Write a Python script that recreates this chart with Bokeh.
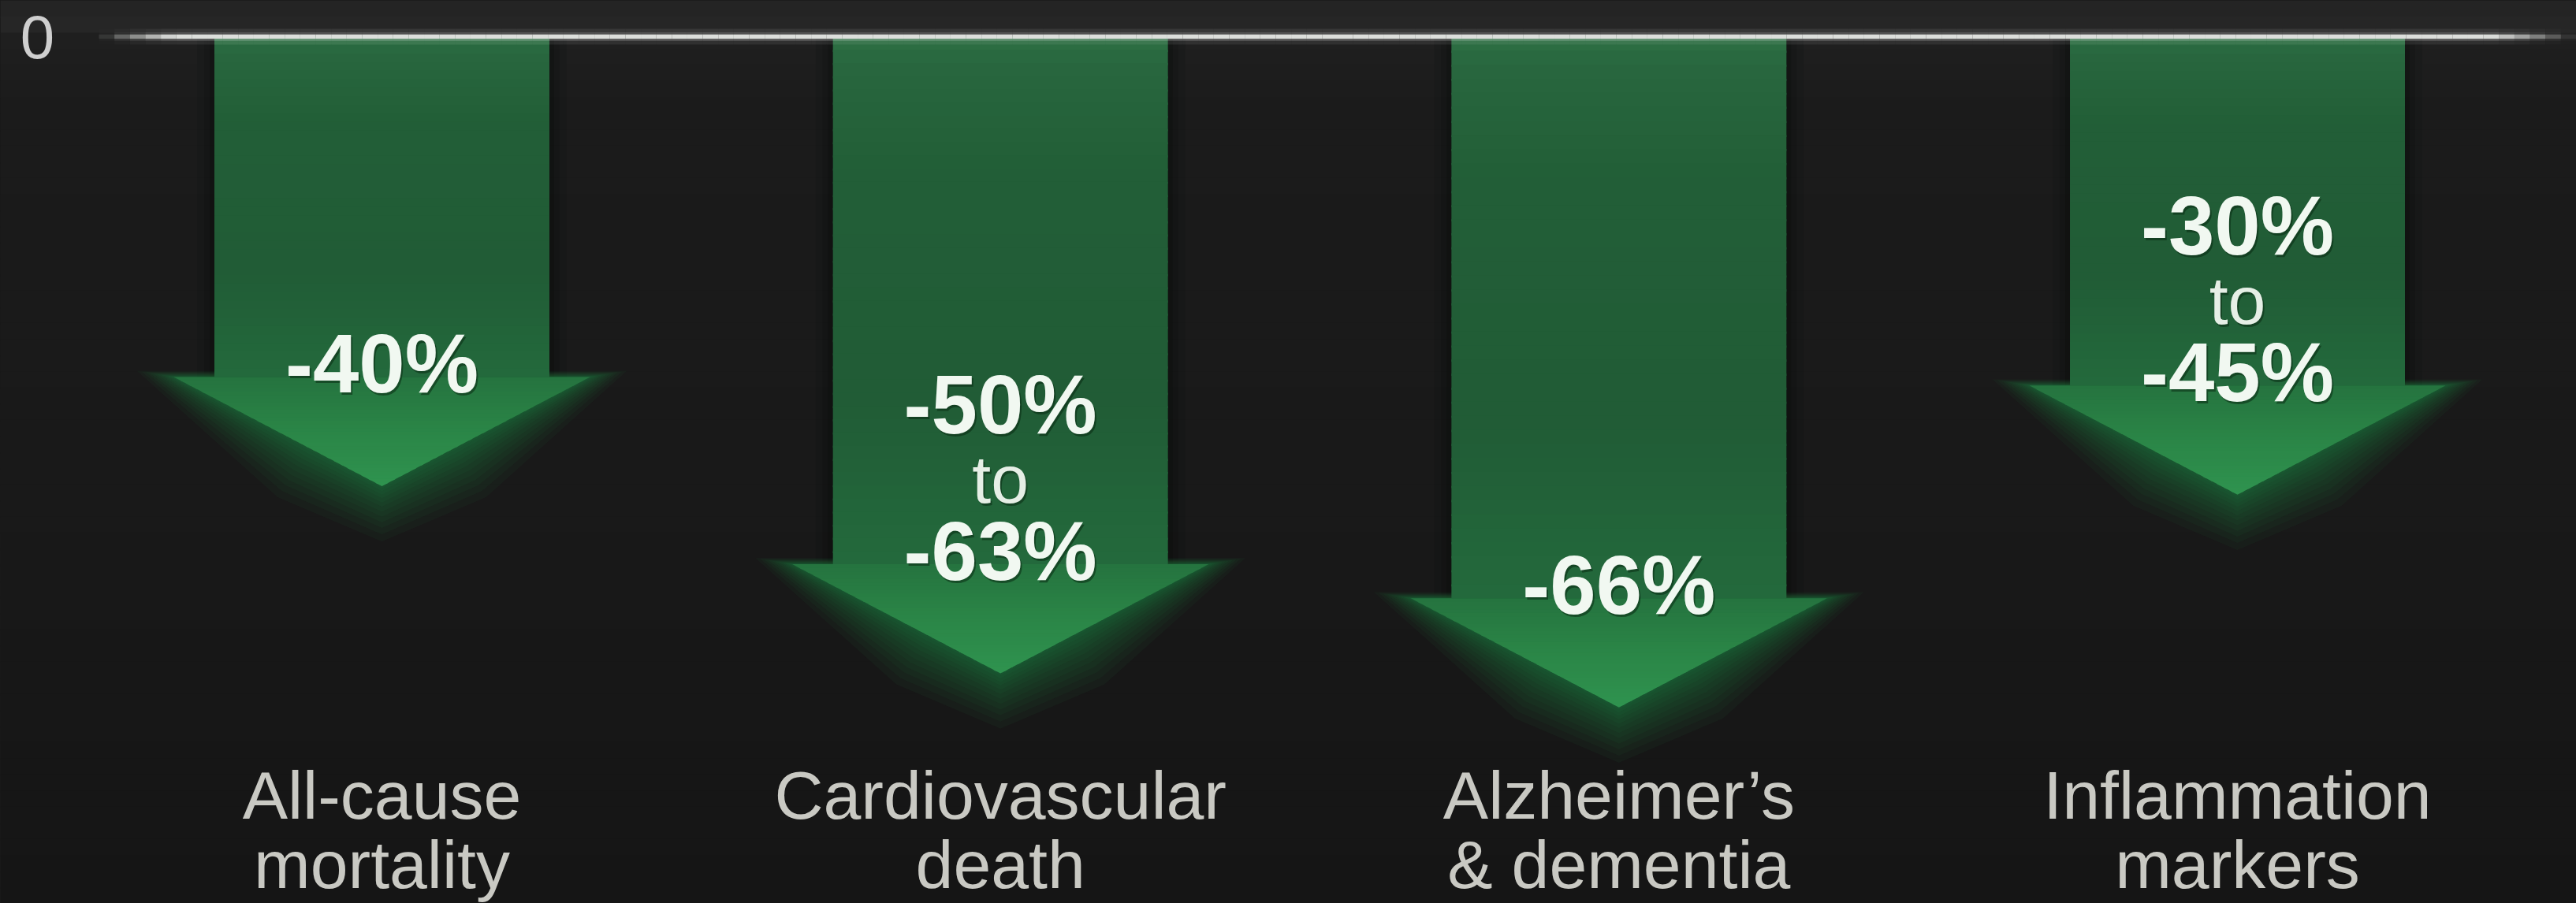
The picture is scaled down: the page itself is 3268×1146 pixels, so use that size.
import numpy as np
from bokeh.plotting import figure
from bokeh.models import Range1d, ColumnDataSource
from bokeh.core.properties import value
from bokeh.embed import file_html
from bokeh.resources import INLINE

# ---------------- data ----------------
category_line1 = ["All-cause", "Cardiovascular", "Alzheimer\u2019s", "Inflammation"]
category_line2 = ["mortality", "death", "& dementia", "markers"]
arrow_depth = [-40, -62, -66, -41]          # % reached by each arrow's shaft
label_from = ["", "-50%", "", "-30%"]       # upper value of a range (if any)
label_to = ["-40%", "-63%", "-66%", "-45%"]  # main / lower value
y_tick_values = [0]
y_tick_labels = ["0"]

# ---------------- layout ----------------
W, H = 3268, 1146
PX_X = 784.67     # px per category step
PX_Y = 10.8       # px per percent
x0_px = 484       # px of first category
zero_px = 46      # px of zero line from top
x_start, x_end = -x0_px / PX_X, (W - x0_px) / PX_X
y_end, y_start = zero_px / PX_Y, -(H - zero_px) / PX_Y

FONT = value("Liberation Sans")
SW = 212.5 / PX_X   # shaft half width
HW = 264.0 / PX_X   # head half width
HH = 138.5 / PX_Y   # head height


def hex2rgb(h):
    return np.array([int(h[i:i + 2], 16) for i in (1, 3, 5)], float)


def ramp(stops, t):
    pos = [s[0] for s in stops]
    cols = np.array([hex2rgb(s[1]) for s in stops])
    r = [int(round(np.interp(t, pos, cols[:, c]))) for c in range(3)]
    return "#%02x%02x%02x" % tuple(r)


p = figure(width=W, height=H, x_range=Range1d(x_start, x_end), y_range=Range1d(y_start, y_end),
           output_backend="svg", toolbar_location=None, min_border=0,
           x_axis_location=None, y_axis_location=None,
           background_fill_color="#1a1a1a", border_fill_color="#1a1a1a", outline_line_color=None)
p.grid.visible = False

# ---- background vertical gradient ----
bg_stops = [(0, "#232323"), (36, "#262626"), (52, "#1f1f1f"), (140, "#1b1b1b"),
            (600, "#191919"), (1146, "#151515")]
edges = np.linspace(0, H, 57)
bl, br, bt, bb, bc = [], [], [], [], []
for a, b in zip(edges[:-1], edges[1:]):
    bl.append(x_start); br.append(x_end)
    bt.append((zero_px - a) / PX_Y); bb.append((zero_px - b - 2) / PX_Y)
    bc.append(ramp(bg_stops, (a + b) / 2))
p.quad(left=bl, right=br, top=bt, bottom=bb, fill_color=bc, line_color=None)

# ---- shaft dark shadows ----
for e, a in [(22, 0.10), (13, 0.14), (6, 0.2)]:
    p.quad(left=[i - SW - e / PX_X for i in range(4)], right=[i + SW + e / PX_X for i in range(4)],
           top=[0] * 4, bottom=arrow_depth, fill_color="#040a05", fill_alpha=a, line_color=None)

# ---- head glow (soft, mostly below the head) ----
for e in [78, 68, 59, 51, 43, 36, 29, 23, 17, 12, 7, 3]:
    xs, ys = [], []
    for i, d in enumerate(arrow_depth):
        ex, ey = 0.6 * e / PX_X, e / PX_Y
        xs.append([i - HW - ex, i + HW + ex, i + HW * 0.35 + ex * 0.85, i, i - HW * 0.35 - ex * 0.85])
        ys.append([d + 0.1 * ey, d + 0.1 * ey, d - HH * 0.65 - 0.8 * ey, d - HH - 0.9 * ey,
                   d - HH * 0.65 - 0.8 * ey])
    p.patches(xs, ys, fill_color="#2fb355", fill_alpha=0.045, line_color=None)

# ---- shaft gradient bands ----
shaft_stops = [(0, "#2d6f44"), (0.05, "#28673e"), (0.25, "#225e37"), (0.7, "#215c36"), (1, "#236a3c")]
n = 40
sl, sr, st, sb, sc = [], [], [], [], []
for i, d in enumerate(arrow_depth):
    for k in range(n):
        t0, t1 = k / n, (k + 1) / n
        sl.append(i - SW); sr.append(i + SW)
        st.append(d * t0); sb.append(min(d * t1 + (0 if k == n - 1 else -0.25), 0))
        sc.append(ramp(shaft_stops, (t0 + t1) / 2))
p.quad(left=sl, right=sr, top=st, bottom=sb, fill_color=sc, line_color=None)

# ---- head gradient bands ----
head_stops = [(0, "#25733f"), (0.45, "#2a8446"), (1, "#2f934f")]
m = 30
hx, hy, hc = [], [], []
for i, d in enumerate(arrow_depth):
    for k in range(m):
        u0, u1 = k / m, (k + 1) / m
        u1e = min(u1 + 0.012, 1.0)
        w0, w1 = HW * (1 - u0), HW * (1 - u1e)
        y0, y1 = d - HH * u0, d - HH * u1e
        if u1e >= 1.0:
            hx.append([i - w0, i + w0, i]); hy.append([y0, y0, y1])
        else:
            hx.append([i - w0, i + w0, i + w1, i - w1]); hy.append([y0, y0, y1, y1])
        hc.append(ramp(head_stops, (u0 + u1) / 2))
p.patches(hx, hy, fill_color=hc, line_color=None)

# ---- value labels (vertical centres of the cap height) ----
OFF = 17 / PX_Y       # bottom label centre sits this far above the head base
STEP = 95 / PX_Y      # line spacing
fi = [i for i in range(4) if label_from[i]]
bottom_src = ColumnDataSource(dict(x=list(range(4)), y=[d + OFF for d in arrow_depth], t=label_to))
to_src = ColumnDataSource(dict(x=fi, y=[arrow_depth[i] + OFF + STEP - 4 / PX_Y for i in fi],
                               t=["to"] * len(fi)))
top_src = ColumnDataSource(dict(x=fi, y=[arrow_depth[i] + OFF + 2 * STEP - 4 / PX_Y for i in fi],
                                t=[label_from[i] for i in fi]))

for src, style, size, col in [(bottom_src, "bold", "105px", "#f1f8f1"),
                              (top_src, "bold", "105px", "#f1f8f1"),
                              (to_src, "normal", "86px", "#e6efe6")]:
    p.text(x="x", y="y", text="t", source=src, text_font=FONT, text_font_style=style,
           text_font_size=size, text_align="center", text_baseline="middle",
           text_color="#0a2a13", text_alpha=0.55, x_offset=2, y_offset=3)
    p.text(x="x", y="y", text="t", source=src, text_font=FONT, text_font_style=style,
           text_font_size=size, text_align="center", text_baseline="middle", text_color=col)

# ---- zero line with fading ends ----
xl0 = (125 - x0_px) / PX_X
nseg = 160
xe = np.linspace(xl0, x_end, nseg + 1)
fade_in, fade_out = 95 / PX_X, 110 / PX_X
alphas = []
for a, b in zip(xe[:-1], xe[1:]):
    xm = (a + b) / 2
    al = min(1.0, (xm - xl0) / fade_in, (x_end - xm) / fade_out)
    alphas.append(max(al, 0.0))
for lw, k, col in [(20, 0.08, "#ffffff"), (11, 0.16, "#ffffff"), (5.5, 1.0, "#dcdedb")]:
    p.segment(x0=list(xe[:-1]), y0=[0] * nseg, x1=list(xe[1:]), y1=[0] * nseg,
              line_color=col, line_alpha=[a * k for a in alphas], line_width=lw, line_cap="butt")

# ---- y tick label "0" ----
p.text(x=[(47 - x0_px) / PX_X] * len(y_tick_values), y=y_tick_values, text=y_tick_labels,
       text_font=FONT, text_font_size="78px", text_align="center", text_baseline="middle",
       text_color="#cfcfcf")

# ---- category labels ----
p.text(x=list(range(4)), y=[(zero_px - 1008) / PX_Y] * 4, text=category_line1, text_font=FONT,
       text_font_size="86px", text_align="center", text_baseline="middle", text_color="#c9c9c3")
p.text(x=list(range(4)), y=[(zero_px - 1096) / PX_Y] * 4, text=category_line2, text_font=FONT,
       text_font_size="86px", text_align="center", text_baseline="middle", text_color="#c9c9c3")

html = file_html(p, INLINE, title="chart")
html = html.replace("<head>", "<head><style>html,body{background:#1a1a1a;overflow:hidden;}</style>", 1)
open("out.html", "w").write(html)
